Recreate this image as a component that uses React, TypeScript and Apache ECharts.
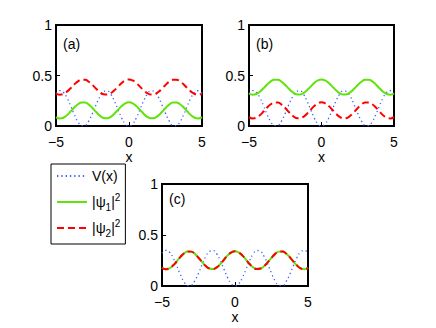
import React, { useEffect, useRef } from 'react';
import * as echarts from 'echarts';

const X = [-5, -4.75, -4.5, -4.25, -4, -3.75, -3.5, -3.25, -3, -2.75, -2.5, -2.25, -2, -1.75, -1.5, -1.25, -1, -0.75, -0.5, -0.25, 0, 0.25, 0.5, 0.75, 1, 1.25, 1.5, 1.75, 2, 2.25, 2.5, 2.75, 3, 3.25, 3.5, 3.75, 4, 4.25, 4.5, 4.75, 5];

const V = [0.322, 0.350, 0.334, 0.280, 0.200, 0.114, 0.043, 0.004, 0.007, 0.051, 0.125, 0.212, 0.289, 0.339, 0.348, 0.315, 0.248, 0.163, 0.080, 0.021, 0, 0.021, 0.080, 0.163, 0.248, 0.315, 0.348, 0.339, 0.289, 0.212, 0.125, 0.051, 0.007, 0.004, 0.043, 0.114, 0.200, 0.280, 0.334, 0.350, 0.322];

const A_PSI1 = [0.088, 0.075, 0.082, 0.107, 0.143, 0.183, 0.215, 0.233, 0.232, 0.212, 0.178, 0.138, 0.103, 0.080, 0.076, 0.091, 0.122, 0.161, 0.198, 0.225, 0.235, 0.225, 0.198, 0.161, 0.122, 0.091, 0.076, 0.080, 0.103, 0.138, 0.178, 0.212, 0.232, 0.233, 0.215, 0.183, 0.143, 0.107, 0.082, 0.075, 0.088];

const A_PSI2 = [0.322, 0.310, 0.317, 0.340, 0.374, 0.411, 0.442, 0.458, 0.457, 0.438, 0.406, 0.369, 0.336, 0.315, 0.311, 0.325, 0.354, 0.390, 0.426, 0.451, 0.460, 0.451, 0.426, 0.390, 0.354, 0.325, 0.311, 0.315, 0.336, 0.369, 0.406, 0.438, 0.457, 0.458, 0.442, 0.411, 0.374, 0.340, 0.317, 0.310, 0.322];

const B_PSI1 = [0.322, 0.310, 0.317, 0.340, 0.374, 0.411, 0.442, 0.458, 0.457, 0.438, 0.406, 0.369, 0.336, 0.315, 0.311, 0.325, 0.354, 0.390, 0.426, 0.451, 0.460, 0.451, 0.426, 0.390, 0.354, 0.325, 0.311, 0.315, 0.336, 0.369, 0.406, 0.438, 0.457, 0.458, 0.442, 0.411, 0.374, 0.340, 0.317, 0.310, 0.322];

const B_PSI2 = [0.088, 0.075, 0.082, 0.107, 0.143, 0.183, 0.215, 0.233, 0.232, 0.212, 0.178, 0.138, 0.103, 0.080, 0.076, 0.091, 0.122, 0.161, 0.198, 0.225, 0.235, 0.225, 0.198, 0.161, 0.122, 0.091, 0.076, 0.080, 0.103, 0.138, 0.178, 0.212, 0.232, 0.233, 0.215, 0.183, 0.143, 0.107, 0.082, 0.075, 0.088];

const C_PSI1 = [0.179, 0.165, 0.173, 0.200, 0.240, 0.283, 0.318, 0.338, 0.337, 0.315, 0.277, 0.234, 0.195, 0.171, 0.166, 0.182, 0.216, 0.259, 0.300, 0.329, 0.340, 0.329, 0.300, 0.259, 0.216, 0.182, 0.166, 0.171, 0.195, 0.234, 0.277, 0.315, 0.337, 0.338, 0.318, 0.283, 0.240, 0.200, 0.173, 0.165, 0.179];

const C_PSI2 = [0.179, 0.165, 0.173, 0.200, 0.240, 0.283, 0.318, 0.338, 0.337, 0.315, 0.277, 0.234, 0.195, 0.171, 0.166, 0.182, 0.216, 0.259, 0.300, 0.329, 0.340, 0.329, 0.300, 0.259, 0.216, 0.182, 0.166, 0.171, 0.195, 0.234, 0.277, 0.315, 0.337, 0.338, 0.318, 0.283, 0.240, 0.200, 0.173, 0.165, 0.179];

const X_TICKS = { min: -5, max: 5, interval: 5 };
const Y_TICKS = { min: 0, max: 1, interval: 0.5 };
const PANEL_LABELS = ['(a)', '(b)', '(c)'];
const SERIES_NAMES = ['V(x)', 'psi1', 'psi2'];

const FONT = '"Liberation Sans", Arial, Helvetica, sans-serif';
const BLUE = '#3f63ff';
const GREEN = '#5fe30a';
const RED = '#ff0000';

function pairs(ys: number[]) {
  return X.map((x, i) => [x, ys[i]]);
}

export default function App() {
  const ref = useRef<HTMLDivElement>(null);
  useEffect(() => {
    if (!ref.current) return;
    const chart = echarts.init(ref.current, null, { renderer: 'svg' });
    const grids = [
      { left: 56, top: 25, width: 146, height: 101 },
      { left: 249, top: 25, width: 145, height: 101 },
      { left: 162, top: 184, width: 146, height: 102 },
    ];
    const panels = [
      [A_PSI1, A_PSI2],
      [B_PSI1, B_PSI2],
      [C_PSI1, C_PSI2],
    ];
    const series: any[] = [];
    panels.forEach((p, i) => {
      series.push({
        type: 'line', name: SERIES_NAMES[0], xAxisIndex: i, yAxisIndex: i,
        data: pairs(V), smooth: true, symbol: 'none', color: BLUE,
        lineStyle: { color: BLUE, width: 1.3, type: [1.3, 3] },
      });
      series.push({
        type: 'line', name: SERIES_NAMES[1], xAxisIndex: i, yAxisIndex: i,
        data: pairs(p[0]), smooth: true, symbol: 'none', color: GREEN,
        lineStyle: { color: GREEN, width: 2, type: 'solid' },
      });
      series.push({
        type: 'line', name: SERIES_NAMES[2], xAxisIndex: i, yAxisIndex: i,
        data: pairs(p[1]), smooth: true, symbol: 'none', color: RED,
        lineStyle: { color: RED, width: 2, type: [7, 4] },
      });
    });
    const axisCommon = {
      axisLine: { show: true, onZero: false, lineStyle: { color: '#000', width: 2 } },
      axisTick: { show: true, inside: true, length: 4, lineStyle: { color: '#000', width: 1 } },
      splitLine: { show: false },
      axisLabel: { color: '#000', fontSize: 14, fontFamily: FONT },
    };
    const option: any = {
      animation: false,
      backgroundColor: '#fff',
      textStyle: { fontFamily: FONT },
      grid: grids.map((g) => ({ ...g, show: true, borderColor: '#000', borderWidth: 2, backgroundColor: '#fff' })),
      xAxis: grids.map((_, i) => ({
        type: 'value', gridIndex: i, ...X_TICKS, ...axisCommon,
        axisLabel: { ...axisCommon.axisLabel, margin: 10, lineHeight: 11, formatter: (v: number) => String(v).replace('-', '\u2212') },
        name: 'x', nameLocation: 'middle', nameGap: 26, nameMoveOverlap: false,
        nameTextStyle: { color: '#000', fontSize: 14, lineHeight: 10, fontFamily: FONT },
      })),
      yAxis: grids.map((_, i) => ({
        type: 'value', gridIndex: i, ...Y_TICKS, ...axisCommon,
        axisLabel: { ...axisCommon.axisLabel, margin: 4 },
      })),
      legend: {
        orient: 'vertical', left: 51, top: 164, width: 76,
        data: SERIES_NAMES,
        backgroundColor: '#fff', borderColor: '#000', borderWidth: 1, borderRadius: 0,
        padding: [2, 5, 6, 5], itemGap: 6, itemWidth: 30, itemHeight: 14, itemTextGap: 6,
        selectedMode: false,
        itemStyle: { opacity: 0 },
        textStyle: {
          color: '#000', fontSize: 14, fontFamily: FONT, lineHeight: 20,
          rich: {
            sub: { fontSize: 10, fontFamily: FONT, color: '#000', padding: [10, 0, 0, 0] },
            sup: { fontSize: 10, fontFamily: FONT, color: '#000', padding: [0, 0, 10, 0] },
          },
        },
        formatter: (name: string) => {
          if (name === 'psi1') return '|\u03c8{sub|1}|{sup|2}';
          if (name === 'psi2') return '|\u03c8{sub|2}|{sup|2}';
          return name;
        },
      },
      graphic: grids.map((g, i) => ({
        type: 'text', left: g.left + 7, top: g.top + (i === 2 ? 8 : 12),
        style: { text: PANEL_LABELS[i], fontSize: 14, fontFamily: FONT, fill: '#000' },
      })),
      series,
    };
    chart.setOption(option);
    return () => chart.dispose();
  }, []);
  return <div ref={ref} style={{ position: 'fixed', left: 0, top: 0, width: 436, height: 328 }} />;
}
